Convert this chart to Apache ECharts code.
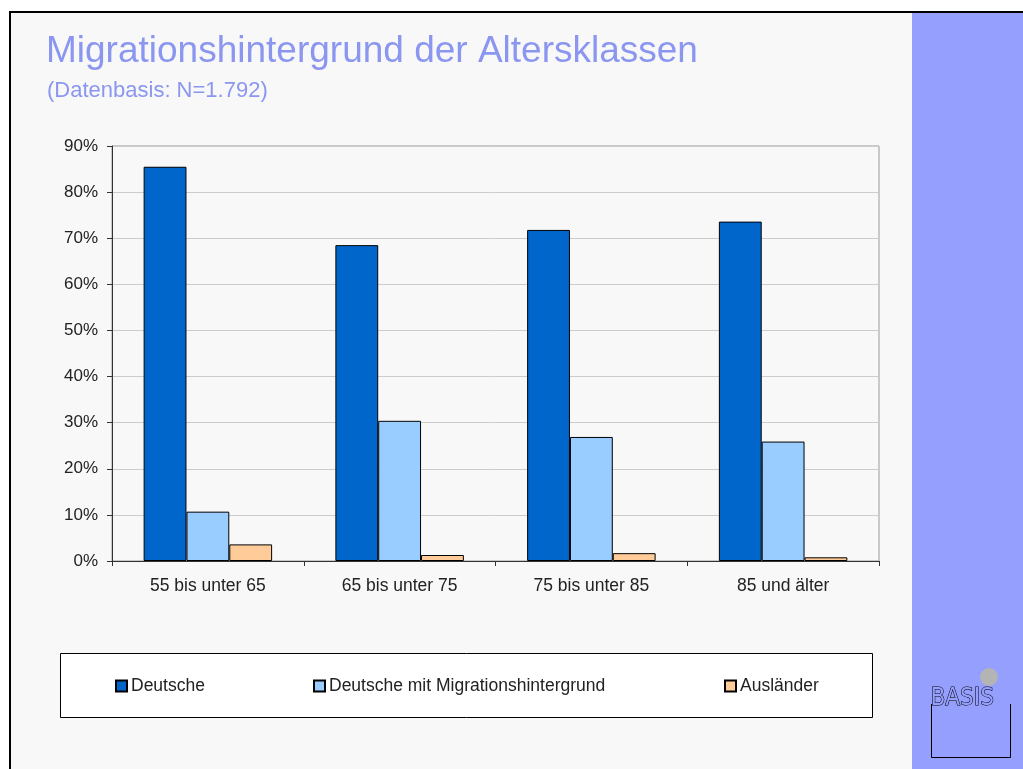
<!DOCTYPE html>
<html>
<head>
<meta charset="utf-8">
<script src="https://cdn.jsdelivr.net/npm/echarts@6/dist/echarts.min.js"></script>
<style>
  html, body { margin: 0; padding: 0; background: #fff; }
  #chart { width: 1023px; height: 769px; }
</style>
</head>
<body>
<div id="chart"></div>
<script>
// Altersklassen
const categories = ['55 bis unter 65', '65 bis unter 75', '75 bis unter 85', '85 und älter'];
// Anteile in %
const deutsche = [85.5, 68.5, 71.8, 73.6];
const migration = [10.7, 30.4, 26.9, 25.9];
const auslaender = [3.6, 1.3, 1.7, 0.8];
const seriesNames = ['Deutsche', 'Deutsche mit Migrationshintergrund', 'Ausländer'];
const colors = ['#0066cc', '#99ccff', '#ffcc99'];

const font = 'Liberation Sans, Arial, Helvetica, sans-serif';
const legendLeft = [115, 313, 724];
const myChart = echarts.init(document.getElementById('chart'));

const option = {
  backgroundColor: '#ffffff',
  animation: false,
  textStyle: { fontFamily: font },
  graphic: [
    // Folienhintergrund mit Rahmen
    { type: 'rect', z: -10, shape: { x: 10, y: 12, width: 1020, height: 770 },
      style: { fill: '#f8f8f8', stroke: '#000', lineWidth: 2 } },
    // rechter Balken
    { type: 'rect', z: -9, shape: { x: 912, y: 13, width: 111, height: 756 },
      style: { fill: '#959ffe' } },
    // Titel
    { type: 'text', left: 46, top: 33,
      style: { text: 'Migrationshintergrund der Altersklassen', fill: '#8b96f0',
        font: '37px ' + font } },
    { type: 'text', left: 47, top: 80,
      style: { text: '(Datenbasis: N=1.792)', fill: '#8b96f0', font: '22px ' + font } },
    // Legendenrahmen
    { type: 'rect', z: -5, shape: { x: 60.5, y: 653.5, width: 812, height: 64 },
      style: { fill: '#ffffff', stroke: '#000', lineWidth: 1 } },
    // Logo
    { type: 'circle', shape: { cx: 989, cy: 677, r: 9 }, style: { fill: '#b4b4b4' } },
    { type: 'polyline', shape: { points: [[931.5, 704], [931.5, 757.5], [1010.5, 757.5], [1010.5, 704]] },
      style: { stroke: '#000', lineWidth: 1, fill: null } },
    { type: 'text', left: 930, top: 686,
      style: { text: 'BASIS', fill: '#959ffe', stroke: '#000', lineWidth: 1,
        font: '24px DejaVu Sans Condensed, sans-serif' } }
  ],
  grid: {
    left: 112, right: 144, top: 146, bottom: 208,
    show: true, backgroundColor: '#f8f8f8', borderColor: '#999', borderWidth: 1
  },
  // eine Legende pro Eintrag, damit die Abstände wie im Original sind
  legend: seriesNames.map((name, i) => ({
    left: legendLeft[i], top: 677, padding: 0,
    itemWidth: 11, itemHeight: 11, itemGap: 4,
    icon: 'rect',
    textStyle: { fontSize: 17.5, color: '#222', fontFamily: font, padding: [0, 0, 0, -1] },
    data: [name]
  })),
  xAxis: {
    type: 'category',
    data: categories,
    axisLine: { lineStyle: { color: '#333', width: 1 } },
    axisTick: { show: true, length: 5, lineStyle: { color: '#333' } },
    axisLabel: { fontSize: 17.5, color: '#222', margin: 16 }
  },
  yAxis: {
    type: 'value',
    min: 0, max: 90, interval: 10,
    axisLine: { show: true, lineStyle: { color: '#333', width: 1 } },
    axisTick: { show: true, length: 5, lineStyle: { color: '#333' } },
    axisLabel: { formatter: '{value}%', fontSize: 17, color: '#222', margin: 14 },
    splitLine: { lineStyle: { color: '#cccccc' } }
  },
  series: [
    { name: seriesNames[0], type: 'bar', data: deutsche, barGap: 0, barCategoryGap: '33%',
      itemStyle: { color: colors[0], borderColor: '#000', borderWidth: 1 } },
    { name: seriesNames[1], type: 'bar', data: migration,
      itemStyle: { color: colors[1], borderColor: '#000', borderWidth: 1 } },
    { name: seriesNames[2], type: 'bar', data: auslaender,
      itemStyle: { color: colors[2], borderColor: '#000', borderWidth: 1 } }
  ]
};

option && myChart.setOption(option);
</script>
</body>
</html>
